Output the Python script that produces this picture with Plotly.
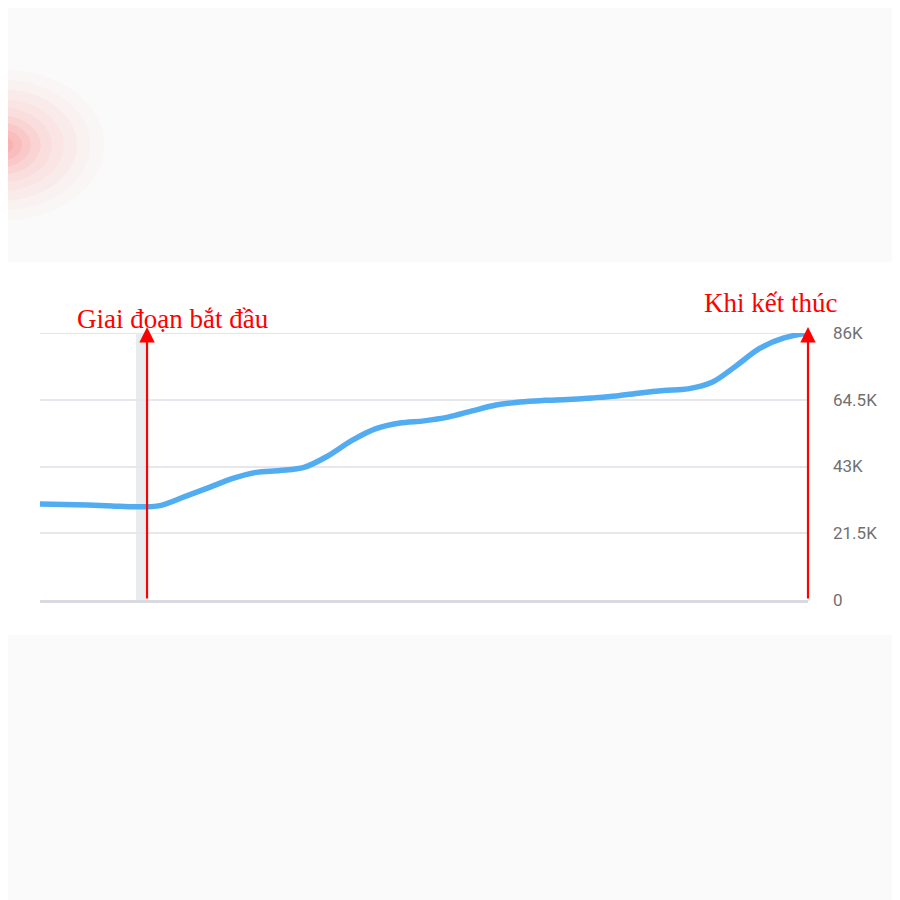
import plotly.graph_objects as go

# ---- data ----
periods = list(range(33))
followers = [30900, 30800, 30600, 30300, 30000, 30400, 33200, 36100, 39100,
             41100, 41700, 42700, 46400, 51400, 55200, 57000, 57700, 58900,
             60900, 62800, 63800, 64300, 64600, 65100, 65700, 66700, 67500,
             68000, 70100, 75400, 81100, 84400, 86000]
tick_vals = [0, 21500, 43000, 64500, 86000]
tick_text = ["0", "21.5K", "43K", "64.5K", "86K"]
start_label = "Giai đoạn bắt đầu"
end_label = "Khi kết thúc"
start_pos = 4.46
end_pos = 32
highlight = (4.0, 4.42)

# layout geometry (reference page pixels; the page has an 8px body margin)
OFF = 8
W, H = 900 - OFF, 900 - OFF
L, R, T, B = 40, 808, 333, 600

def px(x):
    return (x - L) / (R - L)

def py(y):
    return (B - y) / (B - T)

fig = go.Figure()
fig.add_trace(go.Scatter(
    x=periods, y=followers, mode="lines",
    line=dict(color="#52acf1", width=5.5, shape="spline", smoothing=0.9),
    hoverinfo="skip", showlegend=False,
))

shapes = []
# white chart band on light grey page
shapes.append(dict(type="rect", xref="paper", yref="paper", layer="below",
                   x0=px(0), x1=px(905), y0=py(635), y1=py(262),
                   fillcolor="white", line=dict(width=0)))
# soft red glow on the left
for r, a in [(95, 0.02), (82, 0.025), (70, 0.03), (58, 0.035), (47, 0.045),
             (37, 0.055), (28, 0.065), (20, 0.075), (12, 0.085)]:
    shapes.append(dict(type="circle", xref="paper", yref="paper", layer="below",
                       x0=px(-r * 1.1), x1=px(r * 1.1), y0=py(145 + r * 0.8), y1=py(145 - r * 0.8),
                       fillcolor=f"rgba(255,60,60,{a})", line=dict(width=0)))
# hover highlight band
shapes.append(dict(type="rect", xref="x", yref="y", layer="below",
                   x0=highlight[0], x1=highlight[1], y0=0, y1=tick_vals[-1],
                   fillcolor="#e8ecee", line=dict(width=0)))
# top gridline (at the range edge)
shapes.append(dict(type="line", xref="paper", yref="y", layer="below",
                   x0=0, x1=1, y0=tick_vals[-1], y1=tick_vals[-1],
                   line=dict(color="#e6e6ec", width=2)))

annotations = []
for xpos in (start_pos, end_pos):
    annotations.append(dict(
        x=xpos, y=py(327), xref="x", yref="paper", ax=0, ay=600 - 327,
        text="", showarrow=True, arrowhead=2, arrowsize=1.4, arrowwidth=2.2,
        arrowcolor="#ff0000",
    ))
annotations.append(dict(x=px(173), y=py(319), xref="paper", yref="paper", text=start_label,
                        showarrow=False, yanchor="middle", xanchor="center",
                        font=dict(family="Liberation Serif", size=27, color="#ff0000")))
annotations.append(dict(x=px(770), y=py(303), xref="paper", yref="paper", text=end_label,
                        showarrow=False, yanchor="middle", xanchor="center",
                        font=dict(family="Liberation Serif", size=27, color="#ff0000")))

fig.update_layout(
    width=W, height=H,
    margin=dict(l=L - OFF, r=900 - R, t=T - OFF, b=900 - B, pad=0),
    paper_bgcolor="#fafafa", plot_bgcolor="rgba(0,0,0,0)",
    shapes=shapes, annotations=annotations, showlegend=False,
    xaxis=dict(range=[0, 32], showgrid=False, zeroline=False, showticklabels=False,
               ticks="", showline=True, linecolor="#d9d9e2", linewidth=3),
    yaxis=dict(range=[0, 86000], side="right", tickvals=tick_vals, ticktext=tick_text,
               showgrid=True, gridcolor="#e6e6ec", gridwidth=2, zeroline=False,
               showline=False, ticks="", ticklabelstandoff=24,
               tickfont=dict(family="Roboto", size=17, color="#707070")),
)

fig.write_html("out.html")
